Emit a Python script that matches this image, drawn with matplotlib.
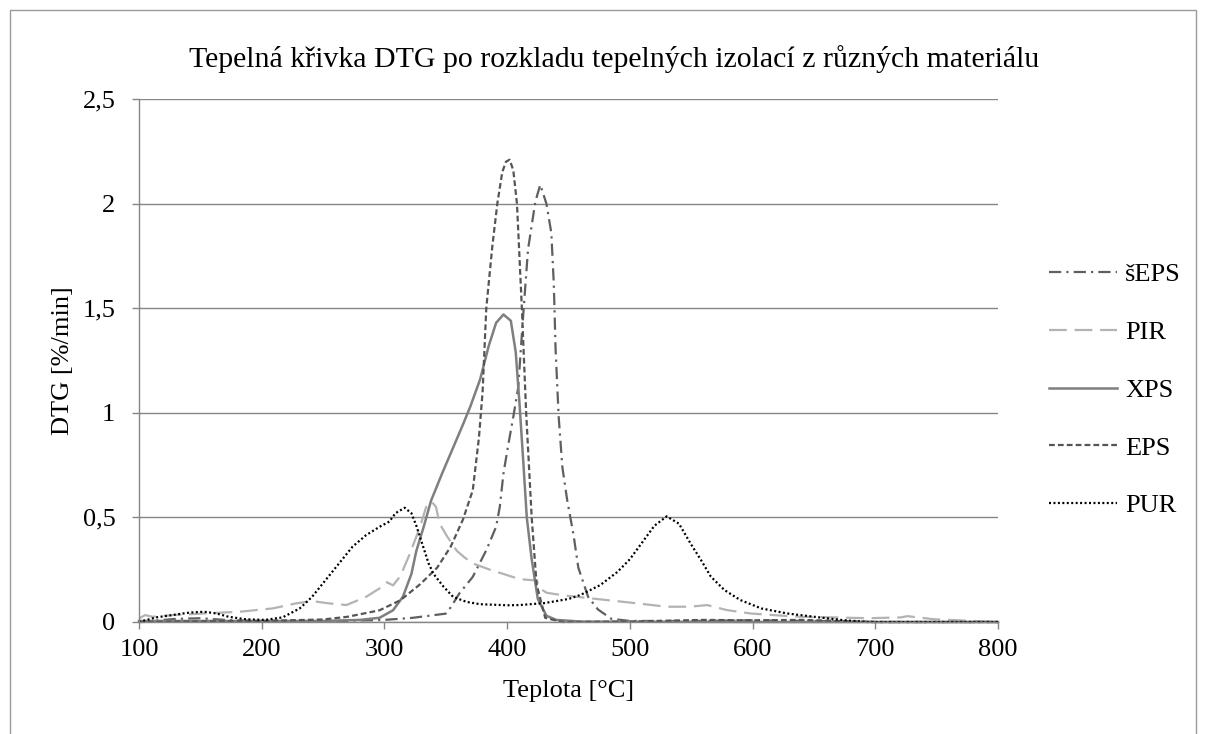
import matplotlib
matplotlib.use("Agg")
import matplotlib.pyplot as plt
import matplotlib.ticker as ticker
from matplotlib.patches import Rectangle

plt.rcParams["font.family"] = ["Liberation Serif", "DejaVu Serif"]

# (temperature in °C, DTG in %/min)
temp_seps = [100, 130, 150, 170, 200, 250, 300, 323, 350, 354, 361, 372, 383, 391, 394, 397, 401, 405,
             409, 413, 417, 423, 427, 432, 436, 438, 439.5, 442, 445, 449, 454, 458, 466, 474, 485,
             500, 550, 600, 650, 700, 750, 800]
seps = [0.0, 0.015, 0.018, 0.01, 0.004, 0.003, 0.01, 0.02, 0.04, 0.07, 0.136, 0.216, 0.343, 0.455,
        0.55, 0.71, 0.85, 0.98, 1.12, 1.46, 1.78, 2.01, 2.09, 2.0, 1.86, 1.62, 1.30, 0.98, 0.74, 0.58,
        0.42, 0.26, 0.12, 0.06, 0.015, 0.005, 0.005, 0.008, 0.005, 0.0, 0.0, 0.0]

temp_pir = [100, 105, 111, 127, 154, 182, 209, 228, 241, 255, 269, 285, 298, 302, 307, 313, 321, 329,
            334, 338.5, 342, 345, 351, 359, 365, 372, 386, 400, 410, 420, 424, 427, 432, 446, 473, 500,
            530, 549, 563, 579, 598, 617, 639, 666, 694, 721, 726, 748, 775, 800]
pir = [0.017, 0.033, 0.025, 0.033, 0.041, 0.049, 0.065, 0.089, 0.10, 0.089, 0.081, 0.12, 0.168, 0.19,
       0.175, 0.22, 0.33, 0.455, 0.55, 0.575, 0.55, 0.47, 0.41, 0.34, 0.31, 0.28, 0.25, 0.224, 0.205,
       0.2, 0.2, 0.16, 0.14, 0.127, 0.11, 0.093, 0.073, 0.073, 0.081, 0.057, 0.041, 0.033, 0.025,
       0.022, 0.018, 0.022, 0.028, 0.013, 0.006, 0.0]

temp_xps = [100, 150, 200, 250, 280, 296, 307, 315, 322, 326, 332, 338, 347, 355, 363, 370, 378, 385,
            391, 397, 403, 407, 410, 413, 416, 420, 425, 432, 440, 460, 600, 800]
xps = [0.005, 0.005, 0.005, 0.005, 0.01, 0.02, 0.056, 0.12, 0.23, 0.34, 0.455, 0.58, 0.71, 0.82,
       0.93, 1.03, 1.16, 1.32, 1.43, 1.47, 1.44, 1.29, 1.05, 0.78, 0.50, 0.30, 0.11, 0.03, 0.01,
       0.002, 0.0, 0.0]

temp_eps = [100, 150, 200, 250, 270, 296, 313, 329, 343, 354, 364, 372, 377, 380, 383, 388, 392, 396,
            399, 402, 405, 408, 412, 415.5, 420, 424, 431, 445, 500, 560, 600, 640, 700, 800]
eps = [0.0, 0.003, 0.005, 0.012, 0.025, 0.056, 0.104, 0.18, 0.26, 0.36, 0.49, 0.63, 0.88, 1.1, 1.5,
       1.8, 2.0, 2.15, 2.2, 2.21, 2.16, 2.0, 1.5, 1.0, 0.5, 0.18, 0.02, 0.0, 0.002, 0.01, 0.008, 0.01,
       0.0, 0.0]

temp_pur = [100, 114, 127, 141, 153, 163, 173, 187, 203, 217, 231, 241, 252, 263, 274, 285, 296, 304,
            309, 316.5, 322, 326, 331, 336, 340, 348, 356, 367, 378, 400, 410, 430, 450, 460, 476, 490,
            500, 510, 520, 530, 540, 550, 558, 566, 577, 590, 607, 628, 650, 672, 694, 800]
pur = [0.0, 0.022, 0.033, 0.045, 0.049, 0.041, 0.025, 0.013, 0.01, 0.022, 0.065, 0.12, 0.20, 0.28,
       0.36, 0.415, 0.455, 0.48, 0.52, 0.546, 0.52, 0.46, 0.37, 0.28, 0.23, 0.17, 0.12, 0.096, 0.085,
       0.08, 0.081, 0.09, 0.11, 0.13, 0.177, 0.24, 0.30, 0.38, 0.46, 0.505, 0.47, 0.37, 0.296, 0.217,
       0.153, 0.105, 0.065, 0.041, 0.025, 0.01, 0.0, 0.0]

y_ticks = [0, 0.5, 1, 1.5, 2, 2.5]
x_ticks = [100, 200, 300, 400, 500, 600, 700, 800]

fs = 19
fig = plt.figure(figsize=(12.06, 7.34), dpi=100)
ax = fig.add_axes([139 / 1206, 112 / 734, 859 / 1206, 523 / 734])

grid_c = "#868686"
fig.patches.append(Rectangle((10 / 1206, -0.05), 1186 / 1206, 1.05 - 10 / 734,
                             transform=fig.transFigure, fill=False, edgecolor="#9a9a9a", lw=1))

ax.plot(temp_seps, seps, color="#5f5f5f", lw=1.6, ls=(0, (5.5, 2.3, 1, 2.3)), label="šEPS", clip_on=False)
ax.plot(temp_pir, pir, color="#b3b3b3", lw=1.6, ls=(0, (8, 3.5)), label="PIR", clip_on=False)
ax.plot(temp_xps, xps, color="#7f7f7f", lw=1.8, ls="-", label="XPS", clip_on=False)
ax.plot(temp_eps, eps, color="#555555", lw=1.6, ls=(0, (2.6, 1.4)), label="EPS", clip_on=False)
ax.plot(temp_pur, pur, color="#000000", lw=1.6, ls=(0, (0.9, 1.1)), label="PUR", clip_on=False)

ax.set_xlim(100, 800)
ax.set_ylim(0, 2.5)
ax.set_xticks(x_ticks)
ax.set_yticks(y_ticks)
ax.yaxis.set_major_formatter(ticker.FuncFormatter(lambda v, p: ("%g" % v).replace(".", ",")))
ax.grid(True, axis="y", color=grid_c, lw=1)
ax.set_axisbelow(True)
for s in ["top", "right"]:
    ax.spines[s].set_visible(False)
for s in ["left", "bottom"]:
    ax.spines[s].set_color(grid_c)
    ax.spines[s].set_linewidth(1)
ax.tick_params(axis="both", colors=grid_c, labelcolor="black", labelsize=fs, length=5, width=1, direction="out")
ax.tick_params(axis="y", pad=12)
ax.tick_params(axis="x", pad=7)

ax.set_xlabel("Teplota [°C]", fontsize=fs)
ax.xaxis.set_label_coords(0.5, -0.11)
ax.set_ylabel("DTG [%/min]", fontsize=fs)
ax.yaxis.set_label_coords(-0.076, 0.5)

fig.text(614 / 1206, 1 - 67 / 734, "Tepelná křivka DTG po rozkladu tepelných izolací z různých materiálu",
         ha="center", va="baseline", fontsize=21.5)

ax.legend(loc="center left", bbox_to_anchor=(1049 / 1206, 1 - 390 / 734), bbox_transform=fig.transFigure,
          frameon=False, fontsize=fs, handlelength=2.58, handletextpad=0.3, labelspacing=1.3,
          borderpad=0, borderaxespad=0)

fig.savefig("out.png", dpi=100)
